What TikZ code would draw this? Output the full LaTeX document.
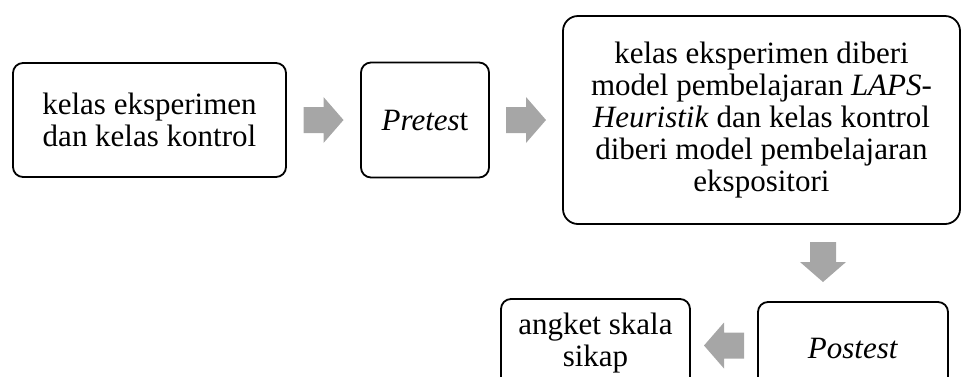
\documentclass[tikz,border=0pt]{standalone}
\usepackage{fontspec}
\setmainfont{Liberation Serif}
\usetikzlibrary{calc}

\tikzset{
  kotak/.style={draw, line width=1.8pt, rounded corners=10pt, align=center,
    inner sep=0pt, font=\fontsize{31}{32}\selectfont},
  panah/.pic={
    \fill[black!35] (-20,-13) -- (0,-13) -- (0,-23) -- (20,0)
      -- (0,23) -- (0,13) -- (-20,13) -- cycle;
  }
}

\begin{document}
\begin{tikzpicture}[x=1pt,y=-1pt]
  \clip (0,0) rectangle (962,376);

  % kotak baris atas
  \node[kotak, minimum width=273pt, minimum height=114pt] (kelas) at (149.5,120)
    {kelas eksperimen\\dan kelas kontrol};
  \node[kotak, minimum width=128pt, minimum height=115pt] (pretest) at (425,120)
    {\textit{Pretes}t};
  \node[kotak, rounded corners=15pt, minimum width=397pt, minimum height=208pt] (model) at (761.5,120)
    {kelas eksperimen diberi\\model pembelajaran \textit{LAPS}-\\\textit{Heuristik} dan kelas kontrol\\diberi model pembelajaran\\ekspositori};

  % kotak baris bawah
  \node[kotak, minimum width=190pt, minimum height=92pt] (postest) at (853,348)
    {\textit{Postest}};
  \node[kotak, minimum width=189pt, minimum height=88pt] (angket) at (595.5,343)
    {angket skala\\sikap};

  % panah blok
  \pic at ($(kelas.east)!0.5!(pretest.west)$) {panah};
  \pic at ($(pretest.east)!0.5!(model.west)$) {panah};
  \pic[rotate=-90] at (823,262) {panah};
  \pic[rotate=180] at ($(angket.east)!0.5!(postest.west)$) {panah};

\end{tikzpicture}
\end{document}
